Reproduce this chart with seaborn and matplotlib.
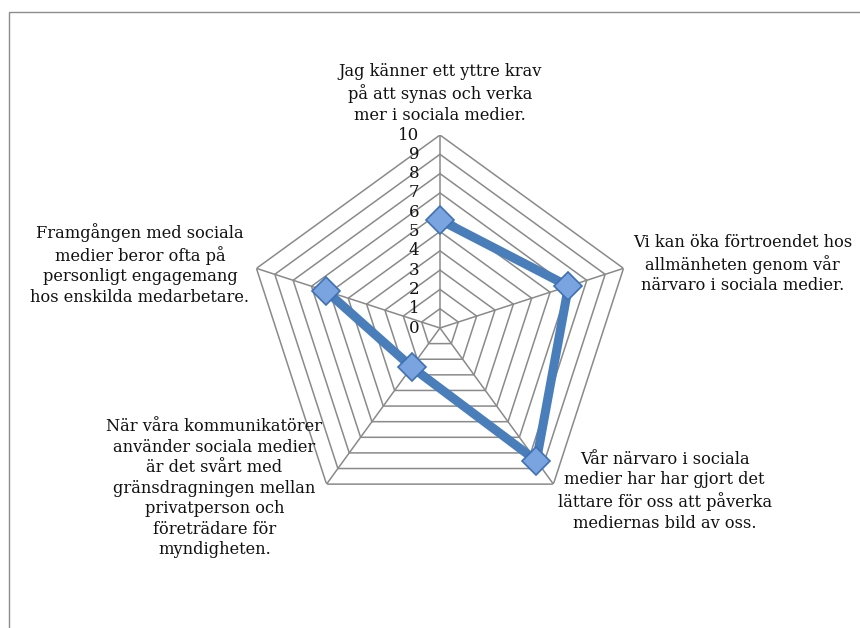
"""Radardiagram över attityder till sociala medier."""

import matplotlib

matplotlib.use("Agg")

import matplotlib.pyplot as plt
import numpy as np
import pandas as pd
import seaborn as sns
from matplotlib.patches import Rectangle

categories = [
    "Jag känner ett yttre krav\npå att synas och verka\nmer i sociala medier.",
    "Vi kan öka förtroendet hos\nallmänheten genom vår\nnärvaro i sociala medier.",
    "Vår närvaro i sociala\nmedier har har gjort det\nlättare för oss att påverka\nmediernas bild av oss.",
    "När våra kommunikatörer\nanvänder sociala medier\när det svårt med\ngränsdragningen mellan\nprivatperson och\nföreträdare för\nmyndigheten.",
    "Framgången med sociala\nmedier beror ofta på\npersonligt engagemang\nhos enskilda medarbetare.",
]
values = [5.6, 7.0, 8.5, 2.5, 6.2]
levels = list(range(0, 11))

LINE = "#4a7ebb"
GRID = "#8a8a8a"
FONT = ["DejaVu Serif"]

sns.set_theme(style="white")
plt.rcParams["font.family"] = FONT

n = len(categories)
angles = np.linspace(0, 2 * np.pi, n, endpoint=False)
closed_angles = np.append(angles, angles[0])

fig = plt.figure(figsize=(8.6, 6.28), dpi=100)
fig.patch.set_facecolor("white")
ax = fig.add_axes([0.2872, 0.1704, 0.4488, 0.6146], projection="polar")
ax.set_theta_offset(np.pi / 2)
ax.set_theta_direction(-1)
ax.set_ylim(0, 10)
ax.grid(False)
ax.spines["polar"].set_visible(False)
ax.set_xticks([])
ax.set_yticks([])
ax.set_facecolor("none")

# polygon rings and spokes
for lvl in levels[1:]:
    ax.plot(closed_angles, [lvl] * (n + 1), color=GRID, lw=1.1, zorder=1)
for a in angles:
    ax.plot([a, a], [0, 10], color=GRID, lw=1.1, zorder=1)

# value scale along the top spoke
for lvl in levels:
    ax.annotate(str(lvl), xy=(0, lvl), xytext=(-15, 0), textcoords="offset points",
                ha="right", va="center", fontsize=12, color="#111111")

frame = pd.DataFrame({"theta": closed_angles, "r": values + values[:1]})
sns.lineplot(data=frame, x="theta", y="r", sort=False, ax=ax, color=LINE, lw=6.5,
             marker="D", markersize=14, markerfacecolor="#79a4e0",
             markeredgecolor="#3f70b3", markeredgewidth=1.2, zorder=3)
ax.set_xlabel("")
ax.set_ylabel("")

# category labels around the outer ring
label_style = [
    dict(xytext=(0, 8), ha="center", va="bottom"),
    dict(xytext=(7, 3), ha="left", va="center"),
    dict(xytext=(3, -5), ha="left", va="center"),
    dict(xytext=(-3, -3), ha="right", va="center"),
    dict(xytext=(-5, 3), ha="right", va="center"),
]
for a, text, style in zip(angles, categories, label_style):
    ax.annotate(text, xy=(a, 10), textcoords="offset points", fontsize=11.7,
                multialignment="center", linespacing=1.27, color="#111111",
                annotation_clip=False, **style)

fig.add_artist(Rectangle((9 / 860, -0.1), 1.2, 1.1 - 12 / 628,
                         transform=fig.transFigure, fill=False,
                         edgecolor="#8c8c8c", lw=1.0))

fig.savefig("out.png", dpi=100)
plt.close(fig)
